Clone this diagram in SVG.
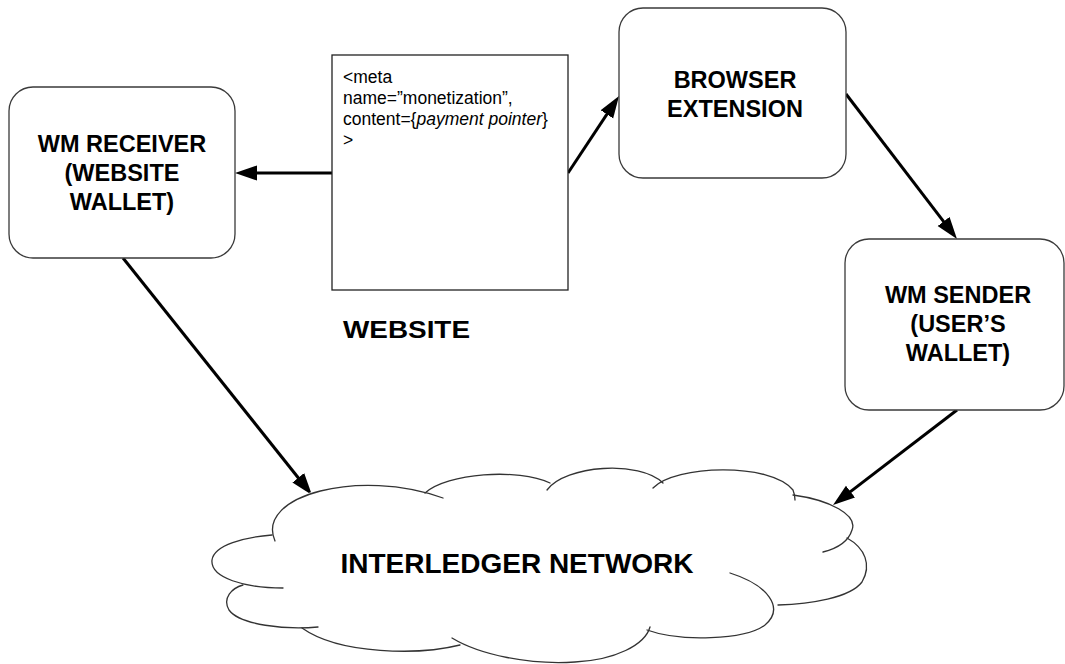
<svg xmlns="http://www.w3.org/2000/svg" width="1065" height="664" viewBox="0 0 1065 664">
  <style>
    .box { fill: #ffffff; stroke: #3a3a3a; stroke-width: 1.3; }
    .page { fill: #ffffff; stroke: #222222; stroke-width: 1.3; }
    .label { font-family: "Liberation Sans", Arial, sans-serif; font-weight: bold; font-size: 23.5px; fill: #000000; text-anchor: middle; }
    .code { font-family: "Liberation Sans", Arial, sans-serif; font-size: 17.5px; fill: #000000; }
    .lobe { fill: none; stroke: #333333; stroke-width: 1.3; stroke-linecap: round; }
    .edge { fill: none; stroke: #000000; stroke-width: 3; marker-end: url(#head); }
  </style>
  <defs>
    <marker id="head" markerUnits="userSpaceOnUse" viewBox="0 0 22 16" markerWidth="22" markerHeight="16" refX="14" refY="8" orient="auto">
      <path d="M0,0.5 L22,8 L0,15.5 Z" fill="#000000"/>
    </marker>
  </defs>

  <rect width="1065" height="664" fill="#ffffff"/>

  <!-- Connectors -->
  <g id="connectors">
    <line class="edge" x1="332" y1="173" x2="243" y2="173"/>
    <line class="edge" x1="568" y1="173" x2="614.6" y2="102.7"/>
    <line class="edge" x1="846" y1="94" x2="952.1" y2="232.6"/>
    <line class="edge" x1="957" y1="410" x2="839.4" y2="500.1"/>
    <line class="edge" x1="123" y1="258" x2="307" y2="488.7"/>
  </g>

  <!-- Web page holding the monetization meta tag -->
  <g id="website">
    <rect class="page" x="332" y="55" width="236" height="235"/>
    <text class="code" x="343" y="83">&lt;meta</text>
    <text class="code" x="343" y="104">name=”monetization”,</text>
    <text class="code" x="343" y="125">content={<tspan font-style="italic">payment pointer</tspan>}</text>
    <text class="code" x="343" y="146">&gt;</text>
    <text class="label" x="343" y="338" font-size="24" textLength="127" lengthAdjust="spacingAndGlyphs" style="text-anchor:start">WEBSITE</text>
  </g>

  <g id="wm-receiver">
    <rect class="box" x="9" y="87" width="226" height="171" rx="24" ry="24"/>
    <text class="label" x="122" y="152">WM RECEIVER</text>
    <text class="label" x="122" y="181">(WEBSITE</text>
    <text class="label" x="122" y="210">WALLET)</text>
  </g>

  <g id="browser-extension">
    <rect class="box" x="619" y="8" width="227" height="170" rx="24" ry="24"/>
    <text class="label" x="735" y="88">BROWSER</text>
    <text class="label" x="735" y="117">EXTENSION</text>
  </g>

  <g id="wm-sender">
    <rect class="box" x="845" y="239" width="219" height="171" rx="24" ry="24"/>
    <text class="label" x="958" y="303">WM SENDER</text>
    <text class="label" x="958" y="332">(USER’S</text>
    <text class="label" x="958" y="361">WALLET)</text>
  </g>

  <!-- Cloud: white body, then each lobe stroked with its small inner hook -->
  <g id="interledger-network">
    <path fill="#ffffff" d="M273,537 C255,495 360,468 430,493 C447,473 518,468 547,490 C565,465 640,460 655,487 C675,465 770,462 793,495 C830,500 858,515 852,530 C850,535 849,537 847,538 C865,548 872,565 862,582 C850,598 810,604 778,605 C780,615 775,622 765,625 C745,640 680,642 648,630 C645,645 615,660 575,662 C530,665 480,655 457,641 C420,655 340,655 303,628 C285,630 240,625 229,610 C222,598 232,588 243,585 L250,588 C220,585 210,575 212,560 C214,545 245,537 273,537 Z"/>
    <path class="lobe" d="M275,541 C255,495 360,468 443,498"/>
    <path class="lobe" d="M425,493 C447,473 518,468 550,483"/>
    <path class="lobe" d="M547,490 C565,465 640,460 663,483"/>
    <path class="lobe" d="M653,488 C675,465 770,462 793,490 Q795,495 795,500"/>
    <path class="lobe" d="M793,495 C830,500 858,515 852,530 C848,543 835,549 823,552"/>
    <path class="lobe" d="M847,538 C865,548 872,565 862,582 C850,598 810,604 778,605"/>
    <path class="lobe" d="M730,573 C768,585 785,608 765,625 C745,640 680,642 647,630"/>
    <path class="lobe" d="M452,638 C480,655 530,665 575,662 C615,660 645,645 650,627"/>
    <path class="lobe" d="M460,645 C420,655 340,655 302,628"/>
    <path class="lobe" d="M318,627 C285,630 240,625 229,610 C222,598 232,588 243,585"/>
    <path class="lobe" d="M283,588 C245,588 210,578 212,560 C214,545 245,537 272,535"/>
    <text class="label" x="517" y="573" style="font-size:28px">INTERLEDGER NETWORK</text>
  </g>
</svg>
